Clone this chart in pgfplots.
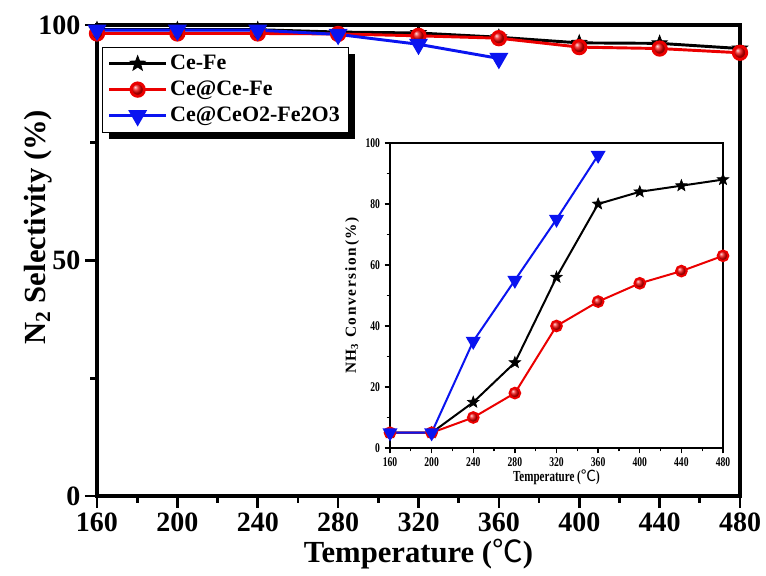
\documentclass[border=0pt]{standalone}
\usepackage{pgfplots}
\pgfplotsset{compat=1.18}
\usepackage{fontspec}
\setmainfont{Liberation Serif}
\newfontfamily\condfont[FakeStretch=0.72]{Liberation Serif}
\newfontfamily\spacedfont[LetterSpace=11]{Liberation Serif}
\newfontfamily\cjk{Noto Sans CJK SC}
\usetikzlibrary{calc,backgrounds}

\definecolor{cfblack}{RGB}{0,0,0}
\definecolor{cfred}{RGB}{235,0,0}
\definecolor{cfblue}{RGB}{10,20,240}

\newcommand{\degc}{{\cjk\mdseries ℃}}

% filled five-pointed star
\pgfdeclareplotmark{fstar}{%
  \pgfpathmoveto{\pgfpointpolar{90}{\pgfplotmarksize}}%
  \pgfpathlineto{\pgfpointpolar{126}{0.42\pgfplotmarksize}}%
  \pgfpathlineto{\pgfpointpolar{162}{\pgfplotmarksize}}%
  \pgfpathlineto{\pgfpointpolar{198}{0.42\pgfplotmarksize}}%
  \pgfpathlineto{\pgfpointpolar{234}{\pgfplotmarksize}}%
  \pgfpathlineto{\pgfpointpolar{270}{0.42\pgfplotmarksize}}%
  \pgfpathlineto{\pgfpointpolar{306}{\pgfplotmarksize}}%
  \pgfpathlineto{\pgfpointpolar{342}{0.42\pgfplotmarksize}}%
  \pgfpathlineto{\pgfpointpolar{18}{\pgfplotmarksize}}%
  \pgfpathlineto{\pgfpointpolar{54}{0.42\pgfplotmarksize}}%
  \pgfpathclose
  \pgfusepathqfillstroke
}

\begin{document}
\begin{tikzpicture}
\begin{axis}[
  name=main,
  scale only axis,
  width=482.25pt, height=353.25pt,
  xmin=160, xmax=480, ymin=0, ymax=100,
  xtick={160,200,...,480}, minor xtick={180,220,...,460},
  ytick={0,50,100}, minor ytick={25,75},
  tick align=outside, tick pos=left,
  major tick length=9pt, minor tick length=5pt,
  every tick/.style={black, line width=2pt},
  axis line style={line width=2.4pt},
  /pgf/number format/assume math mode=true,
  ticklabel style={font=\fontsize{21}{21}\selectfont\bfseries},
  xlabel={\textbf{Temperature (\degc)}},
  ylabel={\textbf{N\textsubscript{2} Selectivity (\%)}},
  label style={font=\fontsize{23}{23}\selectfont\bfseries},
  xlabel style={yshift=1pt},
  ylabel style={at={(axis description cs:-0.092,0.571)}, anchor=center},
  legend cell align=left,
  legend style={name=leg, at={(0.008,0.953)}, anchor=north west, draw=black, thin,
    fill=white, font=\fontsize{16.5}{16.5}\selectfont\bfseries,
    row sep=3pt, inner xsep=4pt, inner ysep=4pt},
  legend image code/.code={
    \draw[mark repeat=2,mark phase=2,#1] plot coordinates {(0cm,0cm) (0.75cm,0cm) (1.5cm,0cm)};
  },
]
\addplot[cfblack, line width=2.2pt, mark=fstar, mark size=6pt, mark options={fill=cfblack, line width=0.6pt}]
  coordinates {(160,99) (200,99) (240,99) (280,98.5) (320,98.3) (360,97.4) (400,96.2) (440,96.1) (480,95.0)};
\addlegendentry{Ce-Fe}
\addplot[cfred, line width=2.2pt, mark=ball, mark size=5pt, mark options={ball color=cfred}]
  coordinates {(160,98.2) (200,98.2) (240,98.2) (280,98.1) (320,97.7) (360,97.2) (400,95.3) (440,95.0) (480,94.1)};
\addlegendentry{Ce@Ce-Fe}
\addplot[cfblue, line width=2.2pt, mark=triangle*, mark size=6pt, mark options={rotate=180, fill=cfblue}]
  coordinates {(160,98.9) (200,98.9) (240,98.9) (280,98.0) (320,95.9) (360,92.9)};
\addlegendentry{Ce@CeO2-Fe2O3}
\end{axis}

\begin{pgfonlayer}{background}
  \fill[black] ($(leg.south west)+(5pt,-5pt)$) rectangle ($(leg.north east)+(5pt,-5pt)$);
\end{pgfonlayer}

\begin{axis}[
  at={(219.75pt,36pt)}, anchor=south west,
  scale only axis,
  width=249.75pt, height=228.75pt,
  axis background/.style={fill=white},
  xmin=160, xmax=480, ymin=0, ymax=100,
  xtick={160,200,...,480}, minor xtick={180,220,...,460},
  ytick={0,20,...,100}, minor ytick={10,30,...,90},
  tick align=outside, tick pos=left,
  major tick length=4pt, minor tick length=2.5pt,
  every tick/.style={black, line width=1pt},
  axis line style={line width=1.6pt},
  /pgf/number format/assume math mode=true,
  ticklabel style={font=\fontsize{10}{10}\selectfont\condfont\bfseries},
  xlabel={Temperature (\degc)},
  ylabel={NH\textsubscript{3} Conversion(\%)},
  xlabel style={font=\fontsize{11.5}{11.5}\selectfont\condfont\bfseries, yshift=5pt},
  ylabel style={font=\fontsize{11.5}{11.5}\selectfont\spacedfont\bfseries, yshift=-2pt},
]
\addplot[cfblack, line width=1.5pt, mark=fstar, mark size=4.5pt, mark options={fill=cfblack, line width=0.5pt}]
  coordinates {(160,5) (200,5) (240,15) (280,28) (320,56) (360,80) (400,84) (440,86) (480,88)};
\addplot[cfred, line width=1.5pt, mark=ball, mark size=4pt, mark options={ball color=cfred}]
  coordinates {(160,5) (200,5) (240,10) (280,18) (320,40) (360,48) (400,54) (440,58) (480,63)};
\addplot[cfblue, line width=1.5pt, mark=triangle*, mark size=5pt, mark options={rotate=180, fill=cfblue}]
  coordinates {(160,5) (200,5) (240,35) (280,55) (320,75) (360,96)};
\end{axis}

\pgfresetboundingbox
\path[use as bounding box] ($(main.south west)+(-72.75pt,-60pt)$) rectangle ($(main.north east)+(19.5pt,18.75pt)$);
\end{tikzpicture}
\end{document}
